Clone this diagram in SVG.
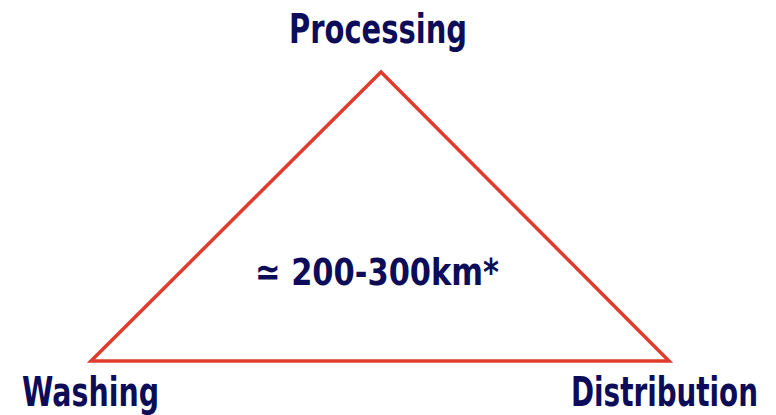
<svg xmlns="http://www.w3.org/2000/svg" width="776" height="415" viewBox="0 0 776 415">
<style>
.lbl{font-family:"DejaVu Sans Condensed","DejaVu Sans","Liberation Sans",sans-serif;font-stretch:condensed;font-weight:bold;fill:#0c0c58;font-size:40px}
.edge{fill:none;stroke:#e03c2e;stroke-width:3.5;stroke-linejoin:miter}
</style>
<rect width="776" height="415" fill="#ffffff"/>
<g id="connectors">
<polygon class="edge" points="381,72 669,361 91,361"/>
</g>
<g id="processing"><text class="lbl" x="289" y="43" textLength="178" lengthAdjust="spacingAndGlyphs">Processing</text></g>
<g id="washing"><text class="lbl" x="22" y="406" textLength="137" lengthAdjust="spacingAndGlyphs">Washing</text></g>
<g id="distribution"><text class="lbl" x="571" y="406" textLength="187" lengthAdjust="spacingAndGlyphs">Distribution</text></g>
<g id="distance"><text class="lbl" x="255" y="285" textLength="244" lengthAdjust="spacingAndGlyphs" style="font-size:38px">≃ 200-300km*</text></g>
</svg>
